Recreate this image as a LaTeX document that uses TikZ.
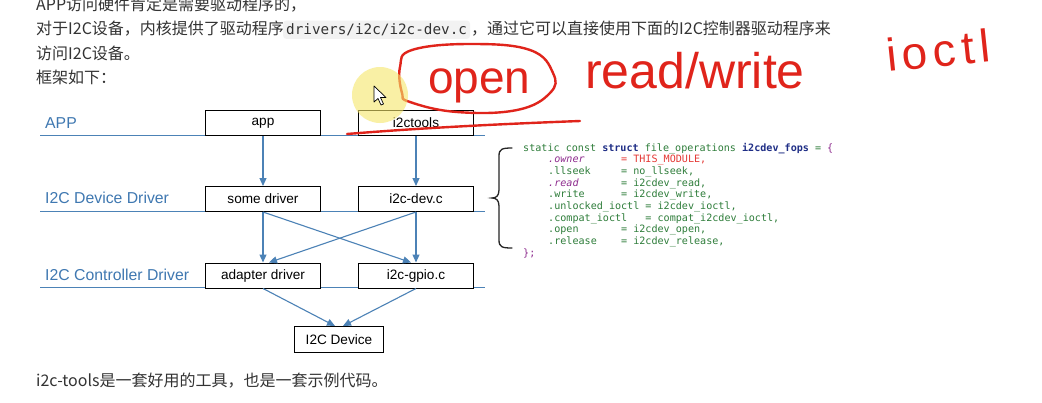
\documentclass[tikz,border=0pt]{standalone}
\usepackage{fontspec}
\setmainfont{Liberation Sans}
\setmonofont{DejaVu Sans Mono}
\newfontfamily\cjk{Noto Sans CJK SC}
\newfontfamily\codefont{DejaVu Sans Mono}
\newfontfamily\handfont[LetterSpace=0]{Liberation Sans}
\newfontfamily\handwide[LetterSpace=12]{Liberation Sans}
\usetikzlibrary{arrows.meta}
\definecolor{bodytext}{HTML}{333333}
\definecolor{layerblue}{HTML}{3F78B1}
\definecolor{lineblue}{HTML}{4C82B6}
\definecolor{codegreen}{HTML}{2E7D3A}
\definecolor{codenavy}{HTML}{1F2E86}
\definecolor{codepurple}{HTML}{8E2C8E}
\definecolor{codered}{HTML}{E53935}
\definecolor{inkred}{HTML}{E0241B}
\definecolor{chipbg}{HTML}{F2F2F2}
\definecolor{highlight}{HTML}{F5E66A}
\begin{document}
\begin{tikzpicture}[x=1pt,y=-1pt,
  body/.style={anchor=base west, inner sep=0pt, font=\cjk\fontsize{16}{16}\selectfont, text=bodytext},
  layer/.style={anchor=base west, inner sep=0pt, font=\fontsize{15.8}{16}\selectfont, text=layerblue},
  box/.style={draw=black, line width=1pt, minimum width=115pt, minimum height=25pt, inner sep=0pt, font=\fontsize{13.6}{14}\selectfont, anchor=north west, fill=white},
  tier/.style={draw=lineblue, line width=1pt},
  flow/.style={draw=lineblue, line width=1.1pt, -{Triangle[length=8pt,width=7pt]}},
  code/.style={anchor=base west, inner sep=0pt, font=\codefont\fontsize{10.1}{11}\selectfont, text=codegreen},
  ink/.style={text=inkred, inner sep=0pt, anchor=base west},
  inkline/.style={draw=inkred, line width=2.4pt, line cap=round, line join=round},
  bracestyle/.style={draw=black!85, line width=1.3pt, line cap=round}
]
\useasboundingbox (0,0) rectangle (1042,402);
\fill[white] (0,0) rectangle (1042,402);
\clip (0,0) rectangle (1042,402);

% ---- page text ----
\node[body] (t1) at (36,10) {APP访问硬件肯定是需要驱动程序的，};
\node[body] (t2a) at (36,34.5) {对于I2C设备，内核提供了驱动程序};
\node[anchor=base west, fill=chipbg, rounded corners=3pt, inner xsep=3pt, inner ysep=3pt,
      font=\codefont\fontsize{14.3}{15}\selectfont, text=bodytext] (chip) at (283,34.5) {drivers/i2c/i2c-dev.c};
\node[body] (t2b) at (471,34.5) {，通过它可以直接使用下面的I2C控制器驱动程序来};
\node[body] (t3) at (36,59) {访问I2C设备。};
\node[body] (t4) at (36,83.5) {框架如下：};
\node[body] (t5) at (36,386.5) {i2c-tools是一套好用的工具，也是一套示例代码。};

% ---- tier lines ----
\coordinate (l1a) at (40,135); \coordinate (l1b) at (485,135);
\coordinate (l2a) at (40,211); \coordinate (l2b) at (485,211);
\coordinate (l3a) at (40,287.5); \coordinate (l3b) at (485,287.5);
\draw[tier] (l1a) -- (l1b);
\draw[tier] (l2a) -- (l2b);
\draw[tier] (l3a) -- (l3b);

\node[layer] (lapp) at (45,128.7) {APP};
\node[layer] (ldev) at (45,203.7) {I2C Device Driver};
\node[layer] (lctl) at (45,280.7) {I2C Controller Driver};

% ---- boxes ----
\node[box] (app) at (205,110) {app};
\node[box] (tools) at (358,110) {i2ctools};
\node[box] (sd) at (205,186) {some driver};
\node[box] (dev) at (358,186) {i2c-dev.c};
\node[box] (ad) at (205,262.5) {adapter driver};
\node[box] (gpio) at (358,262.5) {i2c-gpio.c};
\node[box, minimum width=89pt, minimum height=26pt] (dv) at (294,326) {I2C Device};

% ---- arrows ----
\draw[flow] (app.south) -- (sd.north);
\draw[flow] (tools.south) -- (dev.north);
\draw[flow] (sd.south) -- (ad.north);
\draw[flow] (dev.south) -- (gpio.north);
\draw[flow] (sd.south) -- ([xshift=-5pt]gpio.north);
\draw[flow] (dev.south) -- ([xshift=6pt]ad.north);
\draw[flow] (ad.south) -- ([xshift=-4pt]dv.north);
\draw[flow] (gpio.south) -- ([xshift=4pt]dv.north);

% ---- brace ----
\draw[bracestyle] (512,148) .. controls (502,148) and (499,149) .. (499,156) -- (499,190)
  .. controls (499,196) and (496,198) .. (492,198)
  .. controls (496,198) and (499,200) .. (499,206) -- (499,240)
  .. controls (499,247) and (502,248) .. (512,248);

% ---- code ----
\node[code] (c0) at (523,151) {static const {\bfseries\color{codenavy}struct} file\_operations {\bfseries\color{codenavy}i2cdev\_fops} = {\color{codepurple}\{}};
\node[code] (c1) at (548,162.7) {{\itshape\color{codepurple}.owner}\ \ \ \ \ \ {\color{codered}= THIS\_MODULE,}};
\node[code] (c2) at (548,174.3) {.llseek\ \ \ \ \ = no\_llseek,};
\node[code] (c3) at (548,186) {{\itshape\color{codepurple}.read}\ \ \ \ \ \ \ = i2cdev\_read,};
\node[code] (c4) at (548,197.7) {.write\ \ \ \ \ \ = i2cdev\_write,};
\node[code] (c5) at (548,209.3) {.unlocked\_ioctl = i2cdev\_ioctl,};
\node[code] (c6) at (548,221) {.compat\_ioctl\ \ \ = compat\_i2cdev\_ioctl,};
\node[code] (c7) at (548,232.7) {.open\ \ \ \ \ \ \ = i2cdev\_open,};
\node[code] (c8) at (548,244.3) {.release\ \ \ \ = i2cdev\_release,};
\node[code, text=codepurple] (c9) at (523,256) {\};};

% ---- handwritten annotations ----
\draw[inkline] plot[smooth cycle, tension=0.7] coordinates {(410,102) (457,112) (517,110) (550,93) (553,73) (530,50) (470,44) (412,50) (400,67) (402,93)};
\node[ink, font=\handfont\fontsize{46}{46}\selectfont] (open) at (428,93) {open};
\draw[inkline] (347,134) .. controls (420,128) and (500,124) .. (580,121);
\node[ink, font=\handfont\fontsize{50}{50}\selectfont] (rw) at (585,88) {read/write};
\node[ink, font=\handwide\fontsize{46}{46}\selectfont, rotate=6] (ioctl) at (888,72) {ioctl};

% ---- cursor highlight ----
\fill[highlight, opacity=0.6] (380,95) circle (28);
\draw[black, fill=white, line width=0.7pt, line join=round] (374,86) -- (374,102) -- (378,98.5) -- (381,105) -- (383.5,104) -- (380.5,97.5) -- (386,97.5) -- cycle;
\end{tikzpicture}
\end{document}
